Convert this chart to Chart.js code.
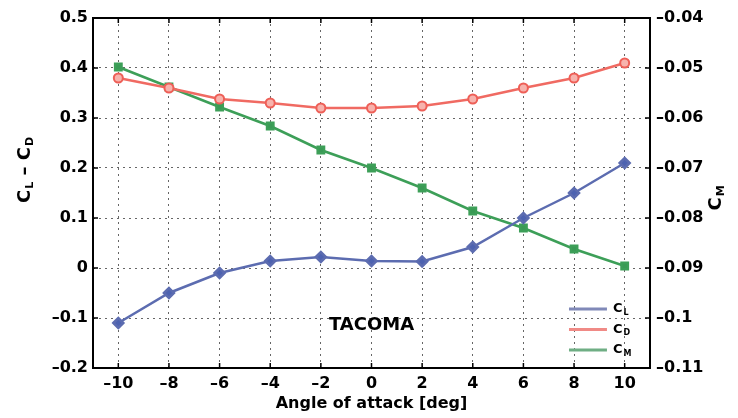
<!DOCTYPE html>
<html lang="en">
<head>
    <meta charset="UTF-8">
    <title>TACOMA</title>
    <script src="https://cdn.jsdelivr.net/npm/chart.js@4"></script>
    <style>
        html, body { margin: 0; padding: 0; background: #fff; }
        #wrap { width: 738px; height: 418px; }
    </style>
</head>
<body>
    <div id="wrap"><canvas id="myChart" width="738" height="418"></canvas></div>
    <script>
        // angle of attack [deg]
        var angles = [-10, -8, -6, -4, -2, 0, 2, 4, 6, 8, 10];
        var cl = [-0.11, -0.05, -0.01, 0.014, 0.022, 0.014, 0.013, 0.042, 0.10, 0.15, 0.21];
        var cd = [0.38, 0.36, 0.338, 0.33, 0.32, 0.32, 0.324, 0.338, 0.36, 0.38, 0.41];
        var cm = [-0.0498, -0.0538, -0.0578, -0.0616, -0.0664, -0.07, -0.074, -0.0786, -0.082, -0.0862, -0.0896];

        var seriesLabels = ['C_L', 'C_D', 'C_M'];
        var xTicks = [-10, -8, -6, -4, -2, 0, 2, 4, 6, 8, 10];
        var leftTicks = [-0.2, -0.1, 0, 0.1, 0.2, 0.3, 0.4, 0.5];
        var rightTicks = [-0.11, -0.1, -0.09, -0.08, -0.07, -0.06, -0.05, -0.04];

        var FONT = '"DejaVu Sans", sans-serif';

        function fmt(v) {
            return String(v).replace('-', '\u2013');
        }

        function pts(ys) {
            return angles.map((a, i) => ({ x: a, y: ys[i] }));
        }

        // draw "C_L" style text, returns width
        function drawSub(ctx, label, x, y, size) {
            var parts = label.split('_');
            ctx.font = 'bold ' + size + 'px ' + FONT;
            ctx.fillText(parts[0], x, y);
            var w = ctx.measureText(parts[0]).width;
            if (parts[1]) {
                var s = Math.round(size * 0.62);
                ctx.font = 'bold ' + s + 'px ' + FONT;
                ctx.fillText(parts[1], x + w + 1, y + size * 0.3);
                w += 1 + ctx.measureText(parts[1]).width;
            }
            return w;
        }

        function subWidth(ctx, label, size) {
            var parts = label.split('_');
            ctx.font = 'bold ' + size + 'px ' + FONT;
            var w = ctx.measureText(parts[0]).width;
            if (parts[1]) {
                ctx.font = 'bold ' + Math.round(size * 0.62) + 'px ' + FONT;
                w += 1 + ctx.measureText(parts[1]).width;
            }
            return w;
        }

        var framePlugin = {
            id: 'frame',
            afterDraw(chart) {
                var ctx = chart.ctx;
                var a = chart.chartArea;
                var sx = chart.scales.x, sy = chart.scales.y, sy2 = chart.scales.y2;
                ctx.save();

                // box
                ctx.strokeStyle = '#000';
                ctx.lineWidth = 2;
                ctx.strokeRect(a.left, a.top, a.right - a.left, a.bottom - a.top);

                // inward ticks
                ctx.lineWidth = 1.5;
                ctx.beginPath();
                xTicks.forEach(t => {
                    var px = sx.getPixelForValue(t);
                    ctx.moveTo(px, a.bottom); ctx.lineTo(px, a.bottom - 5);
                    ctx.moveTo(px, a.top); ctx.lineTo(px, a.top + 5);
                });
                leftTicks.forEach(t => {
                    var py = sy.getPixelForValue(t);
                    ctx.moveTo(a.left, py); ctx.lineTo(a.left + 5, py);
                });
                rightTicks.forEach(t => {
                    var py = sy2.getPixelForValue(t);
                    ctx.moveTo(a.right, py); ctx.lineTo(a.right - 5, py);
                });
                ctx.stroke();

                ctx.fillStyle = '#000';
                ctx.textBaseline = 'middle';
                ctx.textAlign = 'left';

                // left axis title
                ctx.save();
                ctx.translate(25, 170);
                ctx.rotate(-Math.PI / 2);
                var t1 = seriesLabels[0], t2 = seriesLabels[1];
                var total = subWidth(ctx, t1, 18) + subWidth(ctx, ' \u2013 ', 18) + subWidth(ctx, t2, 18);
                var cx = -total / 2;
                cx += drawSub(ctx, t1, cx, 0, 18);
                cx += drawSub(ctx, ' \u2013 ', cx, 0, 18);
                drawSub(ctx, t2, cx, 0, 18);
                ctx.restore();

                // right axis title
                ctx.save();
                ctx.translate(716, 198);
                ctx.rotate(-Math.PI / 2);
                var w3 = subWidth(ctx, seriesLabels[2], 18);
                drawSub(ctx, seriesLabels[2], -w3 / 2, 0, 18);
                ctx.restore();

                // annotation
                ctx.font = 'bold 18px ' + FONT;
                ctx.textAlign = 'center';
                ctx.fillText('TACOMA', sx.getPixelForValue(0), sy.getPixelForValue(-0.115));

                // legend
                ctx.textAlign = 'left';
                var lx0 = sx.getPixelForValue(7.8), lx1 = sx.getPixelForValue(9.3);
                chart.data.datasets.forEach((ds, i) => {
                    var ly = sy.getPixelForValue(-0.082 - i * 0.041);
                    ctx.strokeStyle = ds.legendColor;
                    ctx.lineWidth = 3;
                    ctx.beginPath();
                    ctx.moveTo(lx0, ly); ctx.lineTo(lx1, ly);
                    ctx.stroke();
                    ctx.fillStyle = '#000';
                    drawSub(ctx, seriesLabels[i], lx1 + 6, ly, 13);
                });

                ctx.restore();
            }
        };

        var ctx = document.getElementById('myChart').getContext('2d');
        var myChart = new Chart(ctx, {
            type: 'line',
            data: {
                datasets: [{
                    label: seriesLabels[0],
                    data: pts(cl),
                    yAxisID: 'y',
                    borderColor: '#5c6cb0',
                    legendColor: '#8089b8',
                    backgroundColor: '#4d62b0',
                    pointBackgroundColor: '#4d62b0',
                    pointBorderColor: '#5c6cb0',
                    pointStyle: 'rectRot',
                    pointRadius: 5,
                    borderWidth: 2.5
                }, {
                    label: seriesLabels[1],
                    data: pts(cd),
                    yAxisID: 'y',
                    borderColor: '#f06a62',
                    legendColor: '#f08a86',
                    backgroundColor: '#f6a59f',
                    pointBackgroundColor: '#f7b3ad',
                    pointBorderColor: '#ee5f57',
                    pointStyle: 'circle',
                    pointRadius: 4.5,
                    pointBorderWidth: 2,
                    borderWidth: 2.5
                }, {
                    label: seriesLabels[2],
                    data: pts(cm),
                    yAxisID: 'y2',
                    borderColor: '#3d9f58',
                    legendColor: '#6fae84',
                    backgroundColor: '#3a9a55',
                    pointBackgroundColor: '#3a9a55',
                    pointBorderColor: '#3d9f58',
                    pointStyle: 'rect',
                    pointRadius: 4.5,
                    borderWidth: 2.5
                }]
            },
            options: {
                responsive: false,
                animation: false,
                layout: { padding: { top: 18, left: 0, right: 0, bottom: 5 } },
                plugins: {
                    legend: { display: false },
                    tooltip: { enabled: false }
                },
                scales: {
                    x: {
                        type: 'linear',
                        min: -11,
                        max: 11,
                        afterBuildTicks: s => { s.ticks = xTicks.map(v => ({ value: v })); },
                        afterFit: s => { s.height = 45; },
                        ticks: {
                            callback: v => fmt(v),
                            color: '#000',
                            padding: 6,
                            maxRotation: 0,
                            font: { family: FONT, size: 16, weight: 'bold' }
                        },
                        grid: { color: '#666', lineWidth: 1, drawTicks: false },
                        border: { display: false, dash: [2, 4] },
                        title: {
                            display: true,
                            text: 'Angle of attack [deg]',
                            color: '#000',
                            padding: 0,
                            font: { family: FONT, size: 16, weight: 'bold' }
                        }
                    },
                    y: {
                        position: 'left',
                        min: -0.2,
                        max: 0.5,
                        afterBuildTicks: s => { s.ticks = leftTicks.map(v => ({ value: v })); },
                        afterFit: s => { s.width = 93; },
                        ticks: {
                            callback: v => fmt(v),
                            color: '#000',
                            padding: 5,
                            font: { family: FONT, size: 16, weight: 'bold' }
                        },
                        grid: { color: '#666', lineWidth: 1, drawTicks: false },
                        border: { display: false, dash: [2, 4] }
                    },
                    y2: {
                        position: 'right',
                        min: -0.11,
                        max: -0.04,
                        afterBuildTicks: s => { s.ticks = rightTicks.map(v => ({ value: v })); },
                        afterFit: s => { s.width = 88; },
                        ticks: {
                            callback: v => fmt(v),
                            color: '#000',
                            padding: 6,
                            font: { family: FONT, size: 16, weight: 'bold' }
                        },
                        grid: { display: false, drawTicks: false },
                        border: { display: false }
                    }
                }
            },
            plugins: [framePlugin]
        });
    </script>
</body>
</html>
